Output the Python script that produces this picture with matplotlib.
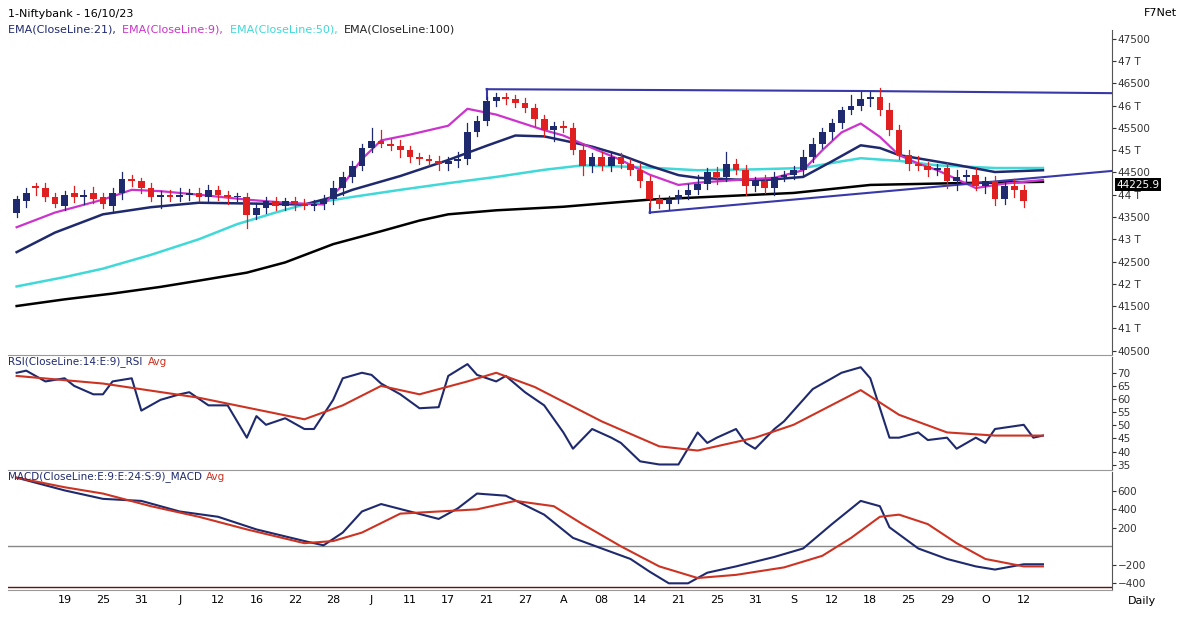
import numpy as np
import matplotlib.pyplot as plt

# candles (Bank Nifty daily)
opens = [43600,43850,44200,44150,43950,43750,44050,43950,44050,43950,43750,
         44050,44350,44300,44150,43950,44000,43950,44000,44050,43950,44100,44000,
         43950,43950,43550,43700,43850,43750,43850,43800,43750,43800,
         43900,44150,44400,44650,45050,45200,45150,45100,45000,44850,44800,44750,
         44700,44750,44800,45400,45650,46100,46200,46150,46050,45950,45700,45450,
         45550,45500,45000,44650,44850,44650,44850,44700,44550,44300,43900,43800,
         43900,44000,44100,44250,44500,44400,44700,44550,44200,44300,44150,44400,
         44450,44550,44850,45150,45400,45600,45900,46000,46150,46200,45900,45450,
         44900,44700,44650,44550,44600,44300,44400,44450,44200,44300,43900,44200,44100,43850,44300]
closes = [43900,44050,44150,43950,43800,44000,43950,44000,43900,43800,44050,
          44350,44300,44150,43950,44000,43950,44000,44050,43950,44100,44000,43950,
          43950,43550,43700,43850,43750,43850,43800,43750,43800,43900,
          44150,44400,44650,45050,45200,45150,45100,45000,44850,44800,44750,44700,
          44750,44800,45400,45650,46100,46200,46150,46050,45950,45700,45450,45550,
          45500,45000,44650,44850,44650,44850,44700,44550,44300,43900,43800,43900,
          44000,44100,44250,44500,44400,44700,44550,44200,44300,44150,44400,44450,
          44550,44850,45150,45400,45600,45900,46000,46150,46200,45900,45450,44900,
          44700,44650,44550,44600,44300,44400,44450,44200,44300,43900,44200,44100,43850,44300,44250]
wick_up = [80,100,60,120,90,80,150,100,120,80,90,150,100,80,120,90,100,150,80,100,120,90,80,
           100,80,120,90,100,80,90,100,80,90,150,120,100,80,300,250,100,120,90,80,100,120,
           100,150,200,120,100,80,90,100,120,90,100,80,100,120,150,90,100,120,80,100,150,
           120,100,80,100,150,200,90,120,250,100,120,90,150,100,80,100,150,120,100,90,80,
           250,150,100,200,150,120,100,180,90,100,120,150,100,150,100,120,100,150,120]
wick_dn = [100,120,150,90,80,100,120,150,90,100,120,150,100,120,90,250,100,80,120,90,100,120,150,
           100,300,100,120,90,100,150,80,100,120,100,150,120,100,90,80,100,150,120,100,90,150,
           150,120,100,90,80,100,120,90,100,150,120,250,100,80,200,150,100,120,90,100,120,
           150,100,120,90,100,80,120,150,100,90,200,120,100,150,100,90,100,120,100,150,90,
           80,100,150,120,100,90,150,100,120,100,150,200,90,100,150,120,100,150,120]

ema100_x = [0,5,10,15,19,24,28,33,38,42,45,50,57,62,66,74,81,85,89,98,107]
ema100_y = [41500,41650,41780,41930,42070,42250,42480,42890,43180,43420,43560,43650,43730,43820,43890,43970,44040,44130,44220,44260,44290]
ema50_x = [0,5,9,14,19,23,27,30,35,40,45,50,55,59,65,71,77,82,86,88,92,96,102,107]
ema50_y = [41940,42150,42340,42650,43000,43340,43600,43780,43950,44110,44260,44400,44560,44660,44620,44550,44570,44600,44750,44820,44760,44660,44600,44600]
ema21_x = [0,4,9,14,19,25,30,33,35,40,45,49,52,55,57,60,63,66,69,71,75,78,82,85,88,90,92,95,98,102,107]
ema21_y = [42710,43150,43560,43720,43820,43800,43780,43950,44110,44420,44780,45100,45330,45310,45220,45080,44890,44650,44440,44380,44340,44330,44400,44750,45110,45050,44890,44780,44670,44510,44550]
ema9_x = [0,4,9,12,15,19,24,28,32,34,36,38,41,45,47,50,52,55,57,60,63,66,69,71,75,79,82,84,86,88,90,92,94,96,98,100,103,107]
ema9_y = [43270,43600,43890,44110,44080,44000,43890,43820,43780,44220,44800,45220,45350,45550,45930,45800,45660,45450,45330,45050,44780,44450,44220,44270,44330,44380,44550,45000,45400,45600,45300,44890,44700,44550,44350,44150,44250,44330]

res_x = [49, 88, 115]
res_y = [46370, 46330, 46280]
sup_x = [66, 115]
sup_y = [43600, 44550]

rsi_x = [0,1,3,5,6,8,9,10,12,13,15,17,18,20,22,24,25,26,28,30,31,33,34,36,37,38,40,42,44,45,47,48,50,51,53,55,57,58,
         60,62,63,65,67,69,71,72,73,75,76,77,79,80,81,83,85,86,88,89,91,92,94,95,97,98,100,101,102,105,106,107]
rsi_y = [70,70.8,66.7,67.9,65,61.8,61.8,66.7,67.9,55.6,59.7,61.8,62.6,57.6,57.6,45.3,53.5,50.2,52.7,48.6,48.6,59.7,67.9,70,
         69.2,65.9,61.8,56.5,56.9,68.8,73.3,69.2,66.7,68.8,62.6,57.6,47.3,41.1,48.6,45.3,43.3,36.3,35.1,35.1,47.3,43.3,45.3,
         48.6,43.3,41.1,48.6,51.5,55.6,63.8,67.9,70,72.1,67.9,45.3,45.3,47.3,44.4,45.3,41.1,45.3,43.3,48.6,50.2,45.3,46.1]
rsiavg_x = [0,9,19,30,34,38,42,47,50,54,61,67,71,77,81,88,92,97,102,107]
rsiavg_y = [68.8,65.9,60.5,52.3,57.6,65,61.8,66.7,70,64.6,51.5,42,40.4,45.3,50.2,63.4,54,47.3,46.1,46.1]

macd_x = [0,5,9,13,17,21,25,30,32,34,36,38,41,44,46,48,51,55,58,61,64,66,68,70,72,75,79,82,85,88,90,91,94,97,100,102,105,107]
macd_y = [739,602,511,489,375,318,182,57,11,148,375,455,375,295,409,568,545,341,91,-23,-136,-273,-398,-398,-284,-216,
          -114,-23,239,489,432,205,-23,-136,-216,-250,-193,-193]
macdavg_x = [0,5,9,14,19,24,30,33,36,40,44,48,52,56,59,63,67,71,75,80,84,87,90,92,95,98,101,105,107]
macdavg_y = [739,636,568,432,318,182,34,57,148,352,375,398,489,432,239,0,-216,-341,-307,-227,-102,91,318,341,239,34,-136,-216,-216]

date_pos = list(range(5, 106, 4))
date_labels = ['19','25','31','J','12','16','22','28','J','11','17','21','27','A','08','14','21','25','31','S','12','18','25','29','O','12']

navy = '#1f2a6e'
red = '#e02020'

fig = plt.figure(figsize=(11.83, 6.22), dpi=100)
W, H = 1183, 622
def box(x0, y0, x1, y1):
    return [x0 / W, 1 - y1 / H, (x1 - x0) / W, (y1 - y0) / H]

ax1 = fig.add_axes(box(8, 30, 1112, 355))
ax2 = fig.add_axes(box(8, 357, 1112, 470), sharex=ax1)
ax3 = fig.add_axes(box(8, 472, 1112, 590), sharex=ax1)

for ax in (ax1, ax2, ax3):
    for s in ('left', 'top'):
        ax.spines[s].set_visible(False)
    ax.spines['bottom'].set_color('#999999')
    ax.spines['right'].set_color('#555555')
    ax.yaxis.tick_right()
    ax.tick_params(axis='y', labelsize=7.5, length=3, pad=1, colors='#333333')
    ax.tick_params(axis='x', length=0)

# candles
for i, (o, c, wu, wd) in enumerate(zip(opens, closes, wick_up, wick_dn)):
    col = navy if c >= o else red
    ax1.plot([i, i], [min(o, c) - wd, max(o, c) + wu], color=col, lw=0.9, zorder=3)
    ax1.bar(i, max(abs(c - o), 15), bottom=min(o, c), width=0.7, color=col, zorder=4)

ax1.plot(ema100_x, ema100_y, color='black', lw=1.8)
ax1.plot(ema50_x, ema50_y, color='#40d8d8', lw=1.8)
ax1.plot(ema21_x, ema21_y, color=navy, lw=1.8)
ax1.plot(ema9_x, ema9_y, color='#cc33cc', lw=1.6)
ax1.plot(res_x, res_y, color='#3838a8', lw=1.5)
ax1.plot(sup_x, sup_y, color='#3838a8', lw=1.5)
ax1.plot([49, 49], [46150, 46370], color='#3838a8', lw=1.5)
ax1.plot([66, 66], [43600, 43800], color='#3838a8', lw=1.5)

ax1.set_xlim(-0.9, 114.2)
ax1.set_ylim(40400, 47700)
pt = list(range(40500, 47501, 500))
ax1.set_yticks(pt)
ax1.set_yticklabels([str(v) if v % 1000 else f'{v // 1000} T' for v in pt])
ax1.text(1.004, (44225 - 40400) / 7300, '44225.9', transform=ax1.transAxes, fontsize=7.5,
         color='white', va='center', bbox=dict(facecolor='black', pad=1, edgecolor='none'))

ax2.plot(rsi_x, rsi_y, color=navy, lw=1.5)
ax2.plot(rsiavg_x, rsiavg_y, color='#cc3322', lw=1.5)
ax2.set_ylim(33, 76)
ax2.set_yticks(range(35, 71, 5))

ax3.axhline(0, color='#888888', lw=1)
ax3.axhline(-440, color='#661111', lw=1)
ax3.plot(macd_x, macd_y, color=navy, lw=1.5)
ax3.plot(macdavg_x, macdavg_y, color='#cc3322', lw=1.5)
ax3.set_ylim(-470, 800)
ax3.set_yticks([-400, -200, 200, 400, 600])

plt.setp(ax1.get_xticklabels(), visible=False)
plt.setp(ax2.get_xticklabels(), visible=False)
ax3.set_xticks(date_pos)
ax3.set_xticklabels(date_labels, fontsize=8)

fig.text(8 / W, 1 - 14 / H, '1-Niftybank - 16/10/23', fontsize=8, va='center')
x0 = 8
for txt, col in [('EMA(CloseLine:21), ', navy), ('EMA(CloseLine:9), ', '#cc33cc'),
                 ('EMA(CloseLine:50), ', '#40d8d8'), ('EMA(CloseLine:100)', '#222222')]:
    fig.text(x0 / W, 1 - 29 / H, txt, fontsize=8, color=col, va='center')
    x0 += len(txt) * 6.0
fig.text(8 / W, 1 - 362 / H, 'RSI(CloseLine:14:E:9)_RSI', fontsize=7.5, color=navy, va='center')
fig.text(148 / W, 1 - 362 / H, 'Avg', fontsize=7.5, color='#cc3322', va='center')
fig.text(8 / W, 1 - 477 / H, 'MACD(CloseLine:E:9:E:24:S:9)_MACD', fontsize=7.5, color=navy, va='center')
fig.text(206 / W, 1 - 477 / H, 'Avg', fontsize=7.5, color='#cc3322', va='center')
fig.text(1160 / W, 1 - 13 / H, 'F7Net', fontsize=8, ha='center', va='center')
fig.text(1142 / W, 1 - 601 / H, 'Daily', fontsize=8, ha='center', va='center')

fig.savefig('out.png', dpi=100)
